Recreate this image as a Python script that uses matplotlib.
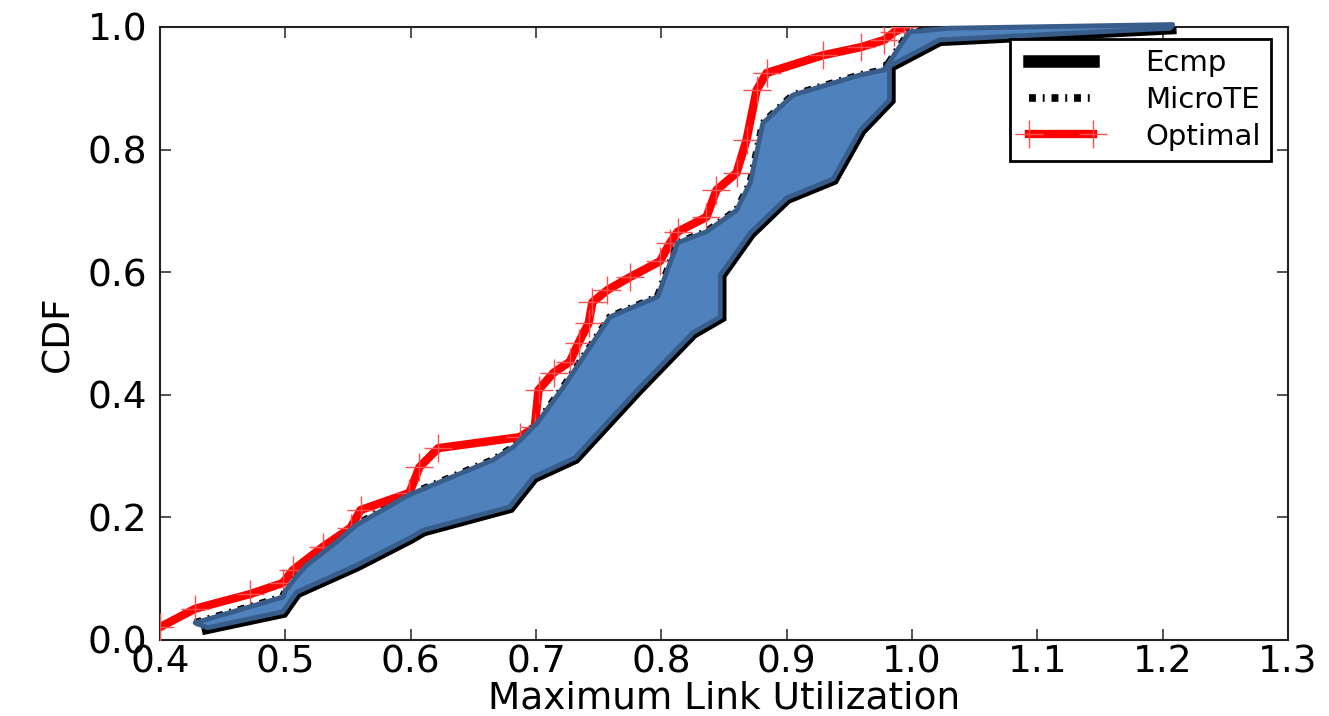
import matplotlib
matplotlib.use("Agg")
import matplotlib.pyplot as plt
import numpy as np

# ---- data ----
optimal_x = [0.400, 0.428, 0.472, 0.498, 0.506, 0.530, 0.552, 0.560, 0.599, 0.607,
             0.622, 0.687, 0.699, 0.702, 0.714, 0.727, 0.734, 0.742, 0.745, 0.757,
             0.775, 0.799, 0.807, 0.813, 0.836, 0.844, 0.860, 0.868, 0.876, 0.884,
             0.929, 0.959, 0.978, 0.986, 0.994]
optimal_y = [0.021, 0.051, 0.075, 0.093, 0.114, 0.152, 0.183, 0.212, 0.240, 0.282,
             0.313, 0.331, 0.347, 0.408, 0.436, 0.454, 0.485, 0.517, 0.551, 0.571,
             0.592, 0.618, 0.648, 0.666, 0.690, 0.734, 0.762, 0.816, 0.897, 0.925,
             0.954, 0.967, 0.979, 0.992, 1.000]

microte_x = [0.428, 0.498, 0.500, 0.509, 0.517, 0.541, 0.557, 0.599, 0.666, 0.682,
             0.701, 0.722, 0.759, 0.797, 0.805, 0.813, 0.836, 0.860, 0.871, 0.881,
             0.905, 0.959, 0.978, 0.982, 0.998, 1.030, 1.208]
microte_y = [0.028, 0.070, 0.080, 0.104, 0.122, 0.160, 0.188, 0.237, 0.294, 0.315,
             0.354, 0.413, 0.527, 0.560, 0.604, 0.648, 0.666, 0.701, 0.746, 0.843,
             0.889, 0.922, 0.930, 0.943, 0.992, 0.998, 1.004]

ecmp_x = [0.438, 0.498, 0.509, 0.557, 0.599, 0.610, 0.679, 0.698, 0.731, 0.781,
          0.825, 0.847, 0.847, 0.871, 0.900, 0.937, 0.959, 0.982, 0.982, 1.022, 1.206]
ecmp_y = [0.020, 0.046, 0.078, 0.122, 0.166, 0.179, 0.217, 0.266, 0.297, 0.408,
          0.501, 0.527, 0.595, 0.664, 0.721, 0.752, 0.832, 0.881, 0.936, 0.979, 0.998]

x_ticks = [0.4, 0.5, 0.6, 0.7, 0.8, 0.9, 1.0, 1.1, 1.2, 1.3]
y_ticks = [0.0, 0.2, 0.4, 0.6, 0.8, 1.0]

# ---- figure ----
W, H = 1329, 716
fig = plt.figure(figsize=(W / 100, H / 100), dpi=100)
ax = fig.add_axes([160 / W, 1 - 640 / H, (1288 - 160) / W, (640 - 27) / H])

ax.plot(ecmp_x, ecmp_y, color="black", lw=9, solid_joinstyle="miter",
        label="Ecmp", zorder=2)
ax.plot(microte_x, microte_y, color="black", lw=5.5, linestyle=(0, (0.9, 0.9, 0.25, 0.9)),
        label="MicroTE", zorder=2)
ax.plot(optimal_x, optimal_y, color="red", lw=6, marker="+", markersize=20,
        markeredgewidth=1, markeredgecolor="#ff5050", label="Optimal", zorder=3)

# blue band between MicroTE and Ecmp
band_x = list(microte_x) + list(ecmp_x[::-1])
band_y = list(microte_y) + list(ecmp_y[::-1])
ax.fill(band_x, band_y, facecolor="#4f81bd", edgecolor="#385d8a", lw=3.5,
        joinstyle="round", zorder=4, clip_on=False)

ax.set_xlim(0.4, 1.3)
ax.set_ylim(0.0, 1.0)
ax.set_xticks(x_ticks)
ax.set_yticks(y_ticks)
ax.set_xticklabels([f"{v:.1f}" for v in x_ticks])
ax.set_yticklabels([f"{v:.1f}" for v in y_ticks])

ax.tick_params(axis="both", direction="in", length=8, width=1.2, color="#333333",
               top=True, right=True, labelsize=27)
ax.tick_params(axis="x", pad=3)
ax.tick_params(axis="y", pad=9)
for s in ax.spines.values():
    s.set_linewidth(1.5)
    s.set_color("#222222")

ax.set_xlabel("Maximum Link Utilization", fontsize=27, labelpad=0)
ax.set_ylabel("CDF", fontsize=27, labelpad=8)

leg = ax.legend(loc="upper right", bbox_to_anchor=(0.99, 0.99), fontsize=21,
                fancybox=False, framealpha=1, edgecolor="black", numpoints=2,
                handlelength=2.8, borderpad=0.35, labelspacing=0.3,
                handletextpad=1.5, borderaxespad=0.2)
leg.get_frame().set_linewidth(2)
leg.set_zorder(10)

fig.savefig("out.png", dpi=100)
